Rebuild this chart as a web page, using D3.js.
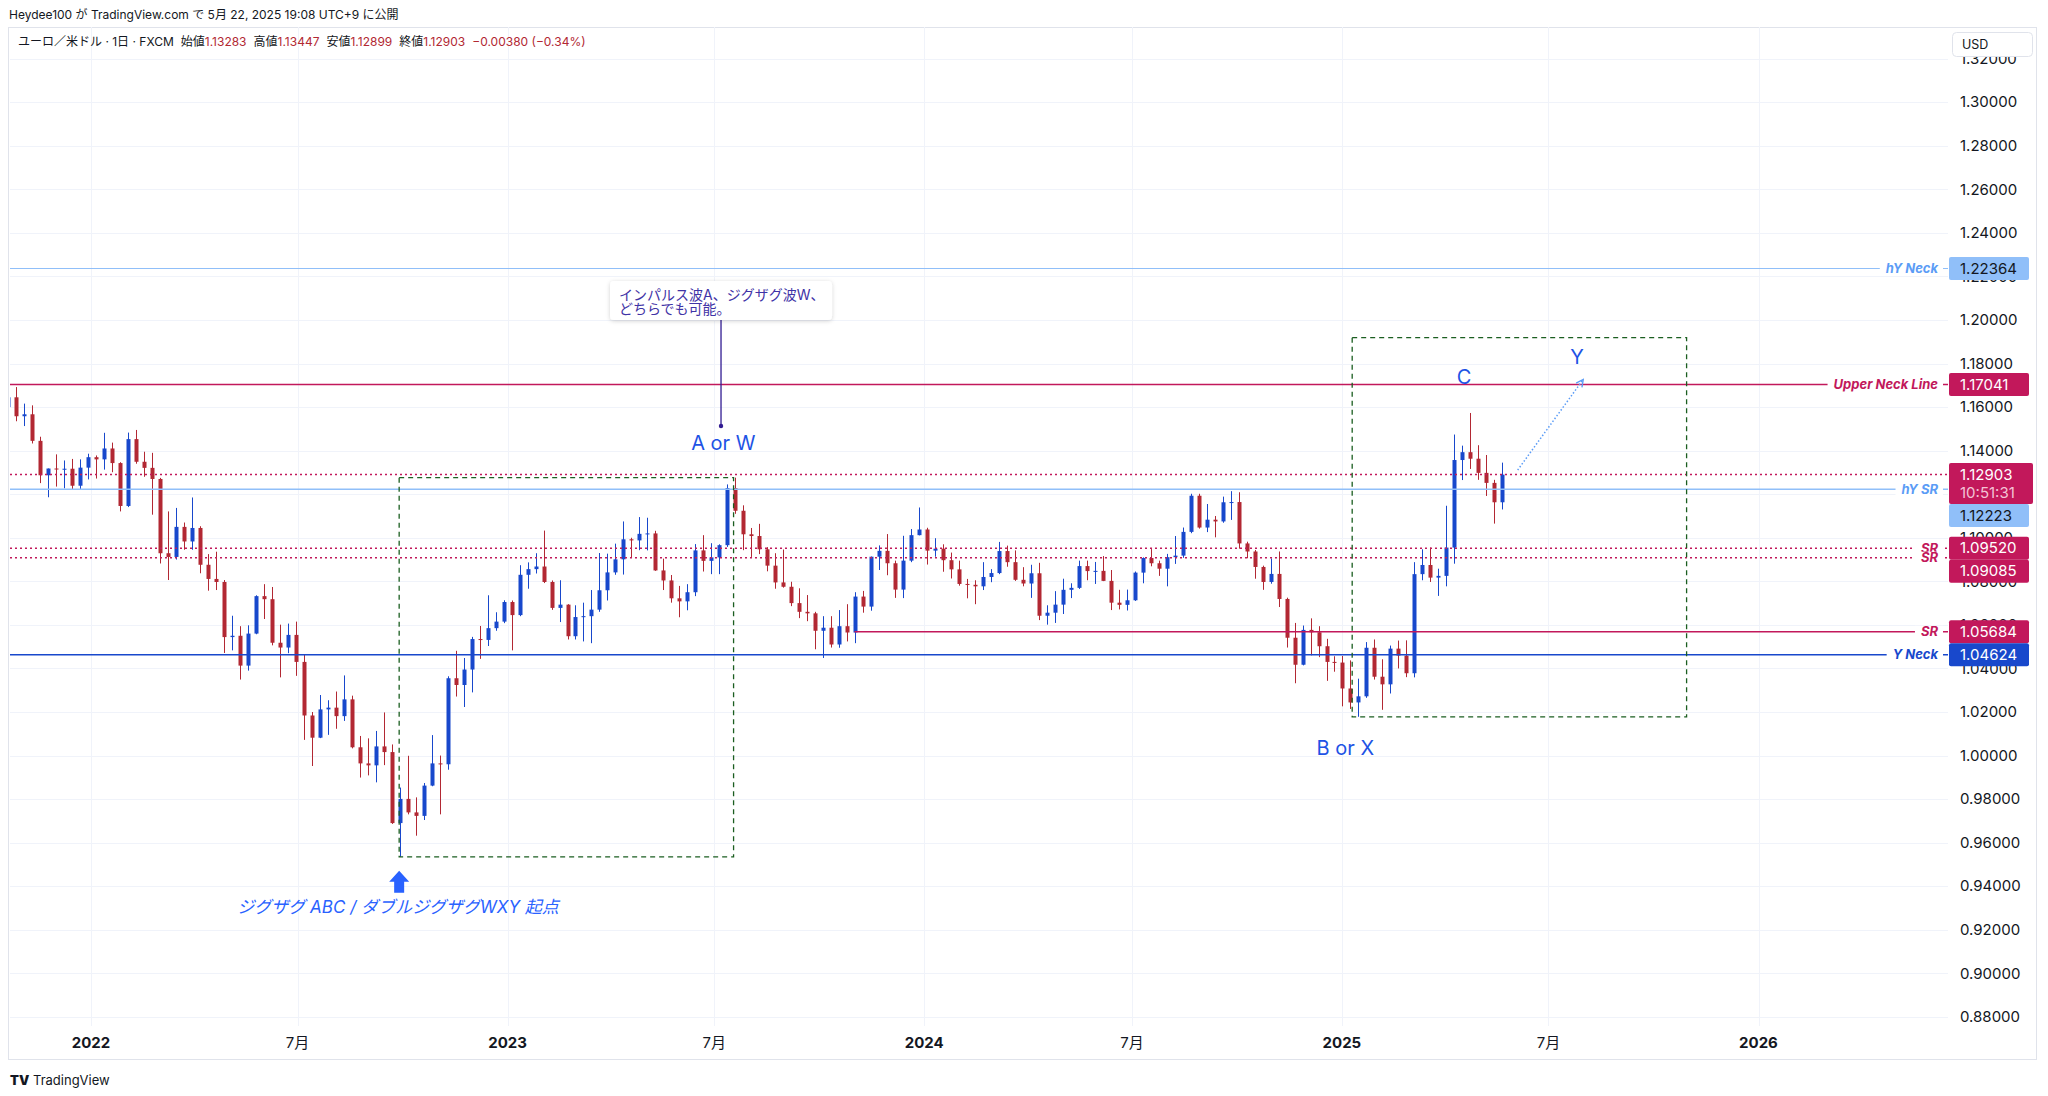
<!DOCTYPE html>
<html><head><meta charset="utf-8">
<script src="https://cdn.jsdelivr.net/npm/d3@7"></script>
<style>
body{margin:0;background:#fff;}
svg{display:block;font-family:Inter,"Noto Sans CJK JP",sans-serif;}
</style></head><body>
<svg width="2048" height="1096"></svg>
<script>
// weekly EUR/USD bars (FXCM), first week starts Mon 2021-10-18
var firstWeek = "2021-10-18";
var opens = [1.1600,1.1645,1.1558,1.1567,1.1445,1.1287,1.1318,1.1315,1.1317,1.1239,1.1322,
 1.1370,1.1360,1.1410,1.1343,1.1146,1.1453,1.1349,1.1321,1.1270,1.0929,1.0912,1.1050,1.0983,1.1045,1.0876,1.0811,1.0797,1.0544,1.0550,1.0413,1.0560,1.0732,1.0718,1.0518,1.0496,1.0554,1.0430,1.0184,1.0082,1.0212,1.0220,1.0181,1.0258,1.0038,0.9964,0.9955,1.0042,1.0016,0.9690,0.9801,0.9739,0.9723,0.9862,0.9964,0.9960,1.0355,1.0324,1.0395,1.0535,1.0531,1.0585,1.0615,
 1.0705,1.0645,1.0830,1.0856,1.0868,1.0797,1.0678,1.0693,1.0548,1.0636,1.0640,1.0670,1.0759,1.0841,1.0901,1.0993,1.0988,1.1018,1.1020,1.0850,1.0804,1.0722,1.0708,1.0750,1.0942,1.0894,1.0910,1.0966,1.1228,1.1124,1.1016,1.1008,1.0947,1.0872,1.0795,1.0775,1.0700,1.0660,1.0653,1.0573,1.0587,1.0510,1.0594,1.0565,1.0730,1.0684,1.0913,1.0940,1.0883,1.0762,1.0895,1.1012,
 1.1038,1.0941,1.0950,1.0897,1.0855,1.0788,1.0784,1.0777,1.0820,1.0838,1.0939,1.0888,1.0807,1.0790,1.0837,1.0642,1.0656,1.0693,1.0761,1.0770,1.0870,1.0847,1.0848,1.0802,1.0702,1.0692,1.0713,1.0840,1.0907,1.0883,1.0858,1.0911,1.0918,1.1027,1.1193,1.1047,1.1083,1.1075,1.1163,1.1164,1.0974,1.0937,1.0866,1.0797,1.0834,1.0719,1.0541,1.0417,1.0577,1.0566,1.0502,1.0430,1.0427,
 1.0308,1.0244,1.0272,1.0495,1.0362,1.0327,1.0491,1.0459,1.0378,1.0833,1.0875,1.0817,1.0825,1.0955,1.1357,1.1393,1.1363,1.1298,1.1252,1.1163];
var highs = [1.1669,1.1692,1.1616,1.1608,1.1464,1.1318,1.1383,1.1355,1.1362,1.1360,1.1386,
 1.1378,1.1482,1.1437,1.1347,1.1483,1.1495,1.1395,1.1390,1.1275,1.1121,1.1137,1.1070,1.1185,1.1053,1.0925,1.0936,1.0806,1.0642,1.0594,1.0598,1.0736,1.0787,1.0774,1.0601,1.0606,1.0615,1.0464,1.0200,1.0278,1.0254,1.0294,1.0368,1.0275,1.0090,1.0079,1.0113,1.0198,1.0051,0.9853,0.9999,0.9808,0.9874,1.0094,1.0000,1.0364,1.0481,1.0448,1.0545,1.0595,1.0736,1.0658,1.0713,
 1.0712,1.0874,1.0887,1.0929,1.1033,1.0804,1.0805,1.0695,1.0690,1.0702,1.0760,1.0930,1.0927,1.0973,1.1075,1.1000,1.1095,1.1092,1.1032,1.0904,1.0829,1.0779,1.0787,1.0971,1.1012,1.0975,1.0970,1.1245,1.1276,1.1149,1.1045,1.1064,1.0957,1.0929,1.0946,1.0798,1.0768,1.0737,1.0660,1.0640,1.0640,1.0668,1.0695,1.0750,1.0756,1.0914,1.0965,1.1017,1.0895,1.1009,1.1040,1.1139,
 1.1046,1.0998,1.0970,1.0932,1.0895,1.0811,1.0805,1.0888,1.0856,1.0981,1.0964,1.0942,1.0865,1.0876,1.0885,1.0690,1.0755,1.0812,1.0791,1.0895,1.0895,1.0889,1.0916,1.0852,1.0761,1.0762,1.0845,1.0910,1.0948,1.0895,1.0926,1.1008,1.1047,1.1202,1.1202,1.1155,1.1100,1.1189,1.1214,1.1209,1.0982,1.0944,1.0872,1.0905,1.0937,1.0725,1.0609,1.0597,1.0630,1.0594,1.0536,1.0456,1.0457,
 1.0437,1.0353,1.0521,1.0533,1.0442,1.0505,1.0528,1.0529,1.0888,1.0947,1.0955,1.0858,1.1147,1.1474,1.1423,1.1573,1.1425,1.1380,1.1266,1.1345];
var lows = [1.1572,1.1535,1.1513,1.1433,1.1251,1.1186,1.1235,1.1227,1.1222,1.1222,1.1268,
 1.1272,1.1313,1.1301,1.1121,1.1141,1.1340,1.1280,1.1106,1.0882,1.0806,1.0900,1.0945,1.0945,1.0837,1.0757,1.0760,1.0471,1.0483,1.0349,1.0390,1.0557,1.0627,1.0506,1.0359,1.0470,1.0366,1.0072,0.9952,1.0080,1.0095,1.0123,1.0159,1.0033,0.9899,0.9909,0.9877,0.9956,0.9686,0.9535,0.9730,0.9632,0.9704,0.9859,0.9730,0.9935,1.0271,1.0223,1.0290,1.0444,1.0503,1.0573,1.0608,
 1.0483,1.0640,1.0766,1.0836,1.0792,1.0669,1.0613,1.0533,1.0533,1.0524,1.0516,1.0660,1.0712,1.0830,1.0831,1.0909,1.0943,1.0942,1.0848,1.0760,1.0702,1.0635,1.0667,1.0732,1.0845,1.0833,1.0833,1.0958,1.1110,1.0943,1.0912,1.0925,1.0846,1.0766,1.0771,1.0686,1.0631,1.0617,1.0488,1.0448,1.0496,1.0495,1.0524,1.0516,1.0656,1.0665,1.0852,1.0828,1.0724,1.0723,1.0888,1.1011,
 1.0877,1.0913,1.0844,1.0813,1.0780,1.0722,1.0695,1.0760,1.0796,1.0833,1.0867,1.0802,1.0777,1.0724,1.0622,1.0601,1.0609,1.0650,1.0723,1.0765,1.0805,1.0788,1.0801,1.0668,1.0671,1.0666,1.0710,1.0791,1.0869,1.0825,1.0777,1.0880,1.0908,1.1021,1.1042,1.1026,1.1002,1.1069,1.1082,1.0950,1.0906,1.0812,1.0761,1.0789,1.0682,1.0496,1.0332,1.0414,1.0460,1.0452,1.0343,1.0385,1.0226,
 1.0214,1.0178,1.0265,1.0349,1.0210,1.0285,1.0400,1.0360,1.0359,1.0805,1.0797,1.0733,1.0777,1.0881,1.1265,1.1316,1.1266,1.1192,1.1065,1.1130];
var closes = [1.1645,1.1558,1.1567,1.1445,1.1287,1.1318,1.1315,1.1317,1.1239,1.1322,1.1370,
 1.1360,1.1410,1.1343,1.1146,1.1453,1.1349,1.1321,1.1270,1.0929,1.0912,1.1050,1.0983,1.1045,1.0876,1.0811,1.0797,1.0544,1.0550,1.0413,1.0560,1.0732,1.0718,1.0518,1.0496,1.0554,1.0430,1.0184,1.0082,1.0212,1.0220,1.0181,1.0258,1.0038,0.9964,0.9955,1.0042,1.0016,0.9690,0.9801,0.9739,0.9723,0.9862,0.9964,0.9960,1.0355,1.0324,1.0395,1.0535,1.0531,1.0585,1.0615,1.0705,
 1.0645,1.0830,1.0856,1.0868,1.0797,1.0678,1.0693,1.0548,1.0636,1.0640,1.0670,1.0759,1.0841,1.0901,1.0993,1.0988,1.1018,1.1020,1.0850,1.0804,1.0722,1.0708,1.0750,1.0942,1.0894,1.0910,1.0966,1.1228,1.1124,1.1016,1.1008,1.0947,1.0872,1.0795,1.0775,1.0700,1.0660,1.0653,1.0573,1.0587,1.0510,1.0594,1.0565,1.0730,1.0684,1.0913,1.0940,1.0883,1.0762,1.0895,1.1012,1.1038,
 1.0941,1.0950,1.0897,1.0855,1.0788,1.0784,1.0777,1.0820,1.0838,1.0939,1.0888,1.0807,1.0790,1.0837,1.0642,1.0656,1.0693,1.0761,1.0770,1.0870,1.0847,1.0848,1.0802,1.0702,1.0692,1.0713,1.0840,1.0907,1.0883,1.0858,1.0911,1.0918,1.1027,1.1193,1.1047,1.1083,1.1075,1.1163,1.1164,1.0974,1.0937,1.0866,1.0797,1.0834,1.0719,1.0541,1.0417,1.0577,1.0566,1.0502,1.0430,1.0427,1.0308,
 1.0244,1.0272,1.0495,1.0362,1.0327,1.0491,1.0459,1.0378,1.0833,1.0875,1.0817,1.0825,1.0955,1.1357,1.1393,1.1363,1.1298,1.1252,1.1163,1.1290];

var priceTicks = [0.88,0.90,0.92,0.94,0.96,0.98,1.00,1.02,1.04,1.06,1.08,1.10,1.12,1.14,1.16,1.18,1.20,1.22,1.24,1.26,1.28,1.30,1.32];
var timeTicks = ["2022-01-01","2022-07-01","2023-01-01","2023-07-01","2024-01-01","2024-07-01","2025-01-01","2025-07-01","2026-01-01"];
var timeLabels = ["2022","7月","2023","7月","2024","7月","2025","7月","2026"];

// horizontal levels: value, label, style
var levels = [
  {v:1.22364, name:"hY Neck", color:"#90bff9", text:"#5b9cf6", tag:"#90bff9", tagText:"#131722", dash:null, w:1},
  {v:1.17041, name:"Upper Neck Line", color:"#c2185b", text:"#c2185b", tag:"#c2185b", tagText:"#fff", dash:null, w:1.5},
  {v:1.12223, name:"hY SR", color:"#90bff9", text:"#5b9cf6", tag:"#90bff9", tagText:"#131722", dash:null, w:1.5},
  {v:1.09520, name:"SR", color:"#c2185b", text:"#c2185b", tag:"#c2185b", tagText:"#fff", dash:"2,3", w:1.5},
  {v:1.09085, name:"SR", color:"#c2185b", text:"#c2185b", tag:"#c2185b", tagText:"#fff", dash:"2,3", w:1.5},
  {v:1.05684, name:"SR", color:"#c2185b", text:"#c2185b", tag:"#c2185b", tagText:"#fff", dash:null, w:1.5, from:"2023-11-01"},
  {v:1.04624, name:"Y Neck", color:"#1848cc", text:"#1848cc", tag:"#1848cc", tagText:"#fff", dash:null, w:1.5}
];
var lastClose = 1.12903;

var L = 10, R = 1948, T = 27, B = 1026;
var up = "#1848cc", down = "#b22833", grid = "#f0f3fa";
var parse = d3.utcParse("%Y-%m-%d");

var x = d3.scaleUtc().domain([parse("2022-01-01"), parse("2026-01-01")]).range([91, 1758.5]);
var y = d3.scaleLinear().domain([1.02, 0.88]).range([712, 1016.9]);

var svg = d3.select("svg");
var defs = svg.append("defs");
defs.append("clipPath").attr("id", "plot").append("rect")
  .attr("x", L).attr("y", T).attr("width", R - L).attr("height", B - T);
var sh = defs.append("filter").attr("id", "shadow").attr("x", "-10%").attr("y", "-30%").attr("width", "120%").attr("height", "160%");
sh.append("feDropShadow").attr("dx", 0).attr("dy", 1).attr("stdDeviation", 2).attr("flood-color", "#000").attr("flood-opacity", 0.18);
defs.append("marker").attr("id", "arr").attr("viewBox", "0 0 10 10").attr("refX", 8).attr("refY", 5)
  .attr("markerWidth", 6).attr("markerHeight", 6).attr("orient", "auto")
  .append("path").attr("d", "M1,1 L9,5 L1,9").attr("fill", "none").attr("stroke", "#5b9cf6").attr("stroke-width", 1.5);

// frame
svg.append("rect").attr("x", 8.5).attr("y", 27.5).attr("width", 2028).attr("height", 1032)
  .attr("fill", "none").attr("stroke", "#e0e3eb");

var plot = svg.append("g").attr("clip-path", "url(#plot)");

// grid
plot.selectAll(".hg").data(priceTicks).join("line")
  .attr("x1", L).attr("x2", R).attr("y1", d => Math.round(y(d)) + 0.5).attr("y2", d => Math.round(y(d)) + 0.5)
  .attr("stroke", grid);
plot.selectAll(".vg").data(timeTicks).join("line")
  .attr("x1", d => Math.round(x(parse(d))) + 0.5).attr("x2", d => Math.round(x(parse(d))) + 0.5)
  .attr("y1", T).attr("y2", B).attr("stroke", grid);

// candles
var bars = closes.map((c, i) => ({
  t: d3.utcHour.offset(d3.utcDay.offset(parse(firstWeek), i * 7 + 2), 12),
  o: opens[i], h: highs[i], l: lows[i], c: c
}));
var cg = plot.append("g");
cg.selectAll("line").data(bars).join("line")
  .attr("x1", d => Math.round(x(d.t)) + 0.5).attr("x2", d => Math.round(x(d.t)) + 0.5)
  .attr("y1", d => y(d.h)).attr("y2", d => y(d.l))
  .attr("stroke", d => d.c >= d.o ? up : down).attr("stroke-width", 1);
cg.selectAll("rect").data(bars).join("rect")
  .attr("x", d => Math.round(x(d.t)) - 1.5).attr("width", 4)
  .attr("y", d => y(Math.max(d.o, d.c)))
  .attr("height", d => Math.max(1, Math.abs(y(d.o) - y(d.c))))
  .attr("fill", d => d.c >= d.o ? up : down);

// current price dotted line
plot.append("line").attr("x1", L).attr("x2", R).attr("y1", y(lastClose)).attr("y2", y(lastClose))
  .attr("stroke", "#c2185b").attr("stroke-width", 1.5).attr("stroke-dasharray", "2,3");

// levels
var lg = svg.append("g");
levels.forEach(function (d) {
  var yy = y(d.v);
  var x0 = d.from ? x(parse(d.from)) : L;
  lg.append("line").attr("x1", x0).attr("x2", R).attr("y1", yy).attr("y2", yy)
    .attr("stroke", d.color).attr("stroke-width", d.w).attr("stroke-dasharray", d.dash);
  var t = lg.append("text").attr("x", 1938).attr("y", yy).attr("dy", "0.35em")
    .attr("text-anchor", "end").attr("font-size", 13).attr("font-weight", 700)
    .attr("font-style", "italic").attr("fill", d.text).text(d.name);
  var bb = t.node().getBBox();
  lg.insert("rect", "text:last-child").attr("x", bb.x - 6).attr("y", yy - 6).attr("width", 1943 - bb.x + 6).attr("height", 12).attr("fill", "#fff");
  t.raise();
});

// dashed boxes (second is a copy of the first, moved to the 2025 low)
var boxes = [
  {t0:"2022-09-28", t1:"2023-07-18", p0:0.9535, p1:1.1276},
  {t0:"2025-01-10", t1:"2025-10-30", p0:1.0178, p1:1.1919}
];
svg.append("g").selectAll("rect").data(boxes).join("rect")
  .attr("x", d => x(parse(d.t0))).attr("width", d => x(parse(d.t1)) - x(parse(d.t0)))
  .attr("y", d => y(d.p1)).attr("height", d => y(d.p0) - y(d.p1))
  .attr("fill", "none").attr("stroke", "#1b5e20").attr("stroke-width", 1.3).attr("stroke-dasharray", "5,4");

// projection arrow to Y
svg.append("line")
  .attr("x1", x(parse("2025-06-04"))).attr("y1", y(1.1311))
  .attr("x2", x(parse("2025-07-31"))).attr("y2", y(1.1724))
  .attr("stroke", "#5b9cf6").attr("stroke-width", 1.5).attr("stroke-dasharray", "1.5,2")
  .attr("marker-end", "url(#arr)");

// wave labels
var waveLabels = [
  {t:"2023-07-09", p:1.1435, s:"A or W"},
  {t:"2025-04-18", p:1.1738, s:"C"},
  {t:"2025-07-26", p:1.1830, s:"Y"},
  {t:"2025-01-04", p:1.0035, s:"B or X"}
];
svg.append("g").selectAll("text").data(waveLabels).join("text")
  .attr("x", d => x(parse(d.t))).attr("y", d => y(d.p)).attr("dy", "0.35em")
  .attr("text-anchor", "middle").attr("font-size", 20).attr("fill", "#1e53e5").text(d => d.s);

// callout
var cx = x(parse("2023-07-07"));
svg.append("line").attr("x1", cx).attr("x2", cx).attr("y1", y(1.2179)).attr("y2", y(1.1513))
  .attr("stroke", "#311b92").attr("stroke-width", 1.3);
svg.append("circle").attr("cx", cx).attr("cy", y(1.1513)).attr("r", 2.2).attr("fill", "#311b92");
svg.append("rect").attr("x", cx - 111).attr("y", y(1.2179)).attr("width", 222).attr("height", 39)
  .attr("rx", 4).attr("fill", "#fff").attr("filter", "url(#shadow)");
var ct = svg.append("text").attr("font-size", 14).attr("fill", "#3f33a6");
ct.append("tspan").attr("x", cx - 102).attr("y", y(1.2179) + 19).text("インパルス波A、ジグザグ波W、");
ct.append("tspan").attr("x", cx - 102).attr("y", y(1.2179) + 33).text("どちらでも可能。");

// start arrow + italic note
var ax = x(parse("2022-09-28")), ay = y(0.9535);
svg.append("path")
  .attr("d", `M${ax},${ay + 14} L${ax + 10},${ay + 25} L${ax + 5},${ay + 25} L${ax + 5},${ay + 36} L${ax - 5},${ay + 36} L${ax - 5},${ay + 25} L${ax - 10},${ay + 25} Z`)
  .attr("fill", "#2962ff");
svg.append("text").attr("x", x(parse("2022-09-27"))).attr("y", y(0.9306)).attr("dy", "0.35em")
  .attr("text-anchor", "middle").attr("font-size", 17).attr("font-style", "italic").attr("fill", "#2962ff")
  .text("ジグザグ ABC / ダブルジグザグWXY 起点");

// price tags (stacked to avoid overlap)
var tags = levels.map(d => ({v:d.v, bg:d.tag, fg:d.tagText, h:23, w:80}));
tags.push({v:lastClose, bg:"#c2185b", fg:"#fff", h:41, w:84, timer:"10:51:31"});
tags.sort((a, b) => b.v - a.v);
var prevBottom = -1e9;
tags.forEach(function (d) {
  d.top = Math.max(y(d.v) - 11.5, prevBottom);
  prevBottom = d.top + d.h;
});

// price axis labels (skip the ones a tag fully covers)
var shown = priceTicks.filter(p => !tags.some(t => y(p) - 5 > t.top && y(p) + 5 < t.top + t.h));
svg.append("g").selectAll("text").data(shown).join("text")
  .attr("x", 1960).attr("y", d => y(d)).attr("dy", "0.35em")
  .attr("font-size", 15).attr("fill", "#131722").text(d => d.toFixed(5));

tags.forEach(function (d) {
  svg.append("rect").attr("x", 1949).attr("y", d.top).attr("width", d.w).attr("height", d.h).attr("rx", 2).attr("fill", d.bg);
  svg.append("text").attr("x", 1960).attr("y", d.top + 11.5).attr("dy", "0.35em").attr("font-size", 15)
    .attr("fill", d.fg).text(d.v.toFixed(5));
  if (d.timer) svg.append("text").attr("x", 1960).attr("y", d.top + 30).attr("dy", "0.35em").attr("font-size", 15)
    .attr("fill", "#f3c4d6").text(d.timer);
});

// time axis labels
svg.append("g").selectAll("text").data(timeTicks).join("text")
  .attr("x", d => x(parse(d))).attr("y", 1043).attr("dy", "0.35em").attr("text-anchor", "middle")
  .attr("font-size", 15).attr("font-weight", (d, i) => timeLabels[i].length === 4 ? 700 : 400)
  .attr("fill", "#131722").text((d, i) => timeLabels[i]);

// USD box
svg.append("rect").attr("x", 1952.5).attr("y", 32.5).attr("width", 80).attr("height", 24).attr("rx", 4)
  .attr("fill", "#fff").attr("stroke", "#e0e3eb");
svg.append("text").attr("x", 1962).attr("y", 44.5).attr("dy", "0.35em").attr("font-size", 12.5).attr("fill", "#131722").text("USD");

// header
svg.append("text").attr("x", 9).attr("y", 15).attr("dy", "0.35em").attr("font-size", 12).attr("fill", "#131722")
  .text("Heydee100 が TradingView.com で 5月 22, 2025 19:08 UTC+9 に公開");
var lt = svg.append("text").attr("x", 18).attr("y", 42).attr("dy", "0.35em").attr("font-size", 12).attr("fill", "#131722");
lt.append("tspan").text("ユーロ／米ドル · 1日 · FXCM");
[["始値", "1.13283"], ["高値", "1.13447"], ["安値", "1.12899"], ["終値", "1.12903"]].forEach(function (p) {
  lt.append("tspan").attr("dx", 7).text(p[0]);
  lt.append("tspan").attr("fill", down).text(p[1]);
});
lt.append("tspan").attr("dx", 7).attr("fill", down).text("−0.00380 (−0.34%)");

// footer logo
svg.append("text").attr("x", 10).attr("y", 1080).attr("dy", "0.35em").attr("font-size", 13).attr("font-weight", 900)
  .attr("fill", "#131722").text("TV");
svg.append("text").attr("x", 33).attr("y", 1080).attr("dy", "0.35em").attr("font-size", 13)
  .attr("fill", "#131722").text("TradingView");
</script>
</body></html>
